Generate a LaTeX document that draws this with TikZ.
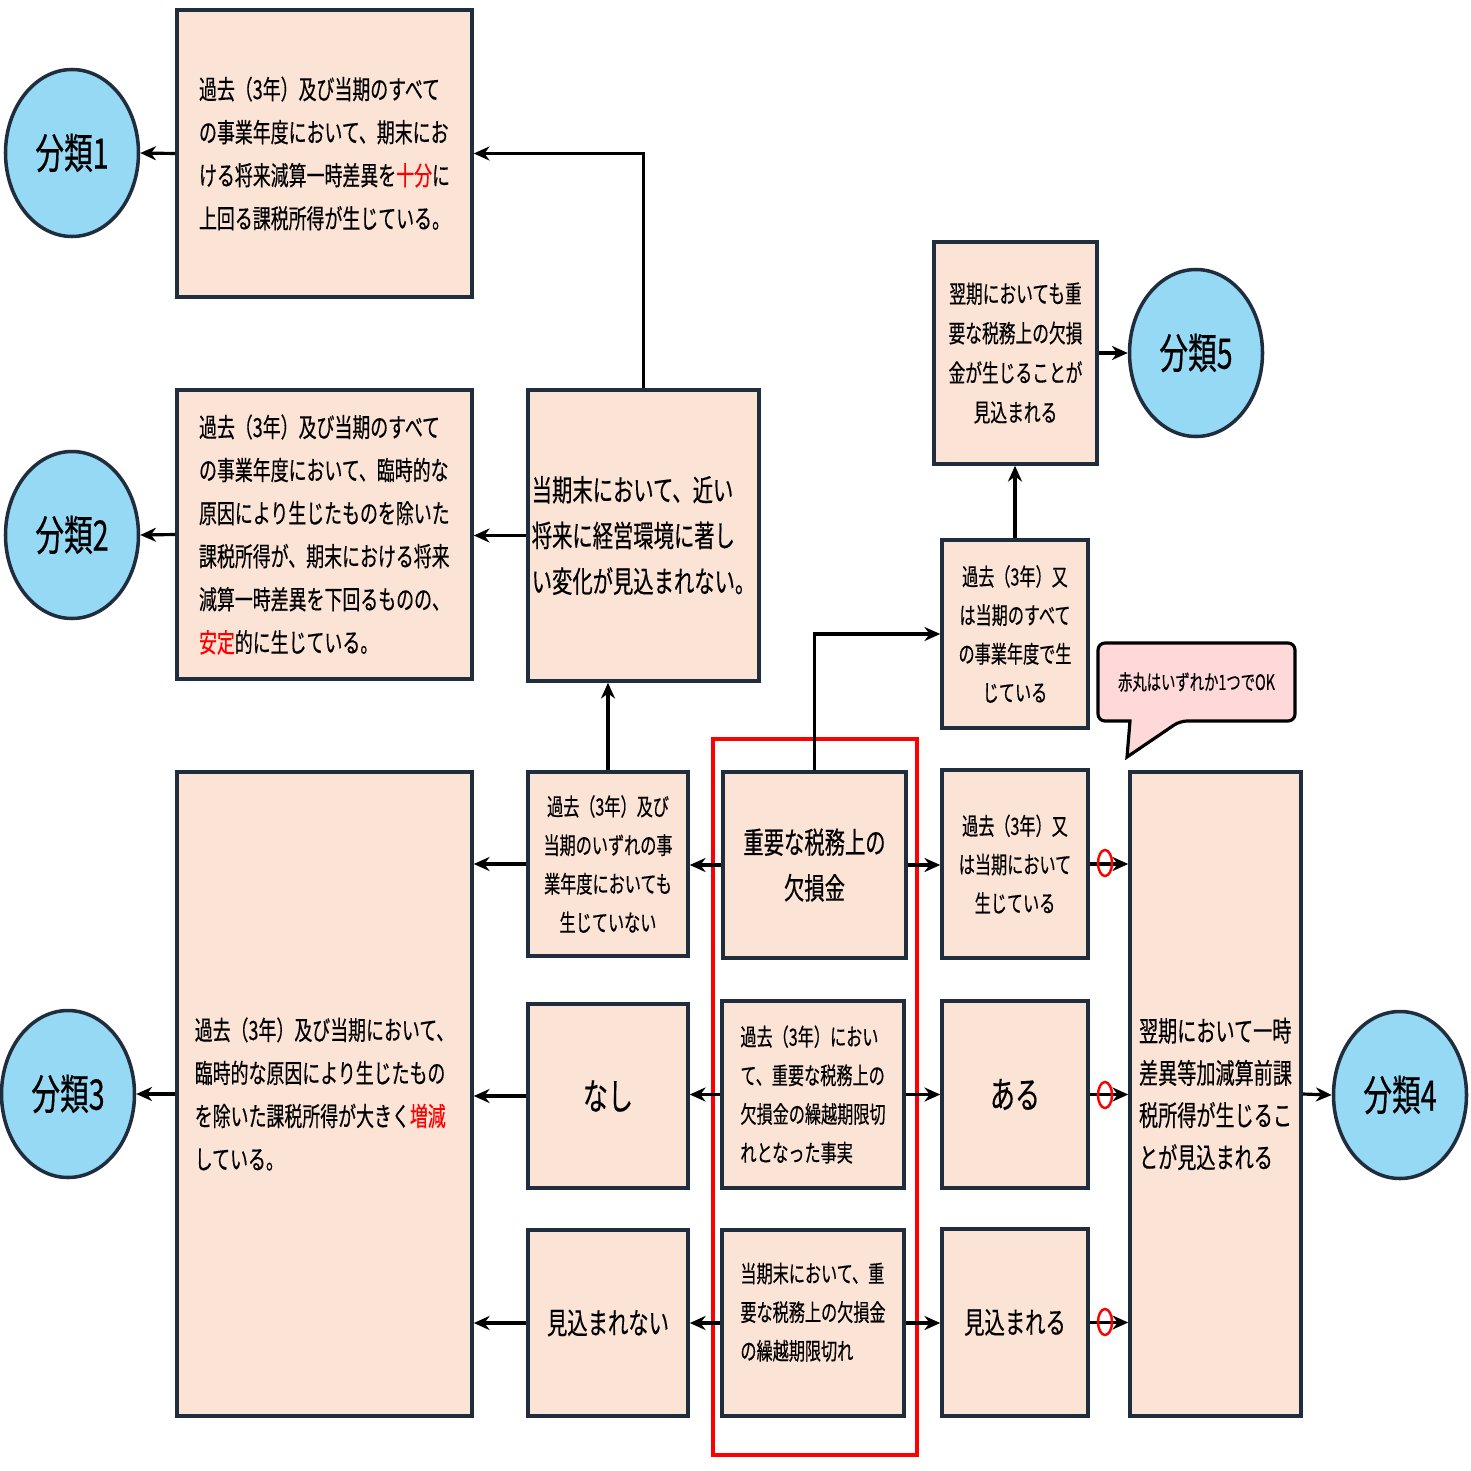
\documentclass[tikz,border=0pt]{standalone}
\usepackage{fontspec}
\setmainfont{Noto Sans CJK JP}[FakeStretch=0.68,FakeBold=0.4]
\usetikzlibrary{arrows.meta,shapes.geometric}
\definecolor{peach}{HTML}{FBE3D6}
\definecolor{navy}{HTML}{1F2D3D}
\definecolor{sky}{HTML}{96D9F5}
\definecolor{pinkc}{HTML}{FFD9D9}
\begin{document}
\begin{tikzpicture}[
 box/.style={draw=navy,line width=2pt,fill=peach,align=left,inner sep=0pt},
 cls/.style={ellipse,draw=navy,line width=2pt,fill=sky,minimum width=2.66cm,minimum height=3.34cm,font=\fontsize{24}{28}\selectfont},
 arr/.style={line width=1.8pt,-{Stealth[length=9pt,width=8pt]}}
]
\useasboundingbox (0,0) rectangle (29.42,-29.42);
\node[box,minimum width=5.9cm,minimum height=5.74cm,font=\fontsize{15}{24.5}\selectfont] (B1) at (6.49,-3.07) {過去（3年）及び当期のすべて\\の事業年度において、期末にお\\ける将来減算一時差異を{\color{red}十分}に\\上回る課税所得が生じている。};
\node[box,minimum width=5.9cm,minimum height=5.78cm,font=\fontsize{15}{24.5}\selectfont] (B2) at (6.49,-10.69) {過去（3年）及び当期のすべて\\の事業年度において、臨時的な\\原因により生じたものを除いた\\課税所得が、期末における将来\\減算一時差異を下回るものの、\\{\color{red}安定}的に生じている。};
\node[box,minimum width=4.62cm,minimum height=5.82cm,font=\fontsize{17}{26}\selectfont] (C) at (12.87,-10.71) {当期末において、近い\\将来に経営環境に著し\\い変化が見込まれない。};
\node[box,minimum width=5.9cm,minimum height=12.88cm,font=\fontsize{15}{24.5}\selectfont] (B3) at (6.49,-21.88) {過去（3年）及び当期において、\\臨時的な原因により生じたもの\\を除いた課税所得が大きく{\color{red}増減}\\している。};
\node[box,minimum width=3.2cm,minimum height=3.68cm,align=center,font=\fontsize{13.5}{22}\selectfont] (N1) at (12.16,-17.28) {過去（3年）及び\\当期のいずれの事\\業年度においても\\生じていない};
\node[box,minimum width=3.2cm,minimum height=3.68cm,align=center,font=\fontsize{21}{24}\selectfont] (N2) at (12.16,-21.92) {なし};
\node[box,minimum width=3.2cm,minimum height=3.72cm,align=center,font=\fontsize{17}{20}\selectfont] (N3) at (12.16,-26.46) {見込まれない};
\node[box,minimum width=3.66cm,minimum height=3.72cm,align=center,font=\fontsize{17}{26}\selectfont] (M1) at (16.29,-17.3) {重要な税務上の\\欠損金};
\node[box,minimum width=3.64cm,minimum height=3.74cm,font=\fontsize{13.5}{22}\selectfont] (M2) at (16.26,-21.89) {過去（3年）におい\\て、重要な税務上の\\欠損金の繰越期限切\\れとなった事実};
\node[box,minimum width=3.64cm,minimum height=3.72cm,font=\fontsize{13.5}{22}\selectfont] (M3) at (16.26,-26.46) {当期末において、重\\要な税務上の欠損金\\の繰越期限切れ\\[-0.3cm]};
\node[box,minimum width=2.92cm,minimum height=3.76cm,align=center,font=\fontsize{13.5}{22}\selectfont] (R1) at (20.3,-17.28) {過去（3年）又\\は当期において\\生じている};
\node[box,minimum width=2.92cm,minimum height=3.74cm,align=center,font=\fontsize{21}{24}\selectfont] (R2) at (20.3,-21.89) {ある};
\node[box,minimum width=2.92cm,minimum height=3.74cm,align=center,font=\fontsize{17}{20}\selectfont] (R3) at (20.3,-26.45) {見込まれる};
\node[box,minimum width=2.92cm,minimum height=3.76cm,align=center,font=\fontsize{13.5}{22}\selectfont] (T) at (20.3,-12.68) {過去（3年）又\\は当期のすべて\\の事業年度で生\\じている};
\node[box,minimum width=3.26cm,minimum height=4.44cm,align=center,font=\fontsize{14}{22.5}\selectfont] (T2) at (20.31,-7.06) {翌期においても重\\要な税務上の欠損\\金が生じることが\\見込まれる};
\node[box,minimum width=3.42cm,minimum height=12.88cm,font=\fontsize{16}{24}\selectfont] (BR) at (24.31,-21.88) {翌期において一時\\差異等加減算前課\\税所得が生じるこ\\とが見込まれる};
\node[cls] (c1) at (1.44,-3.06) {分類1};
\node[cls] (c2) at (1.44,-10.7) {分類2};
\node[cls] (c3) at (1.36,-21.88) {分類3};
\node[cls] (c4) at (28,-21.9) {分類4};
\node[cls] (c5) at (23.92,-7.06) {分類5};
\draw[red,line width=1.8pt] (14.26,-14.78) rectangle (18.34,-29.1);
\draw[line width=1.8pt,fill=pinkc,rounded corners=4pt] (22.6,-14.42) -- (21.96,-14.42) -- (21.96,-12.86) -- (25.9,-12.86) -- (25.9,-14.42) -- (23.6,-14.42) [sharp corners]-- (22.54,-15.14) -- (22.6,-14.42) -- cycle;
\node[font=\fontsize{12}{14}\selectfont] (cl) at (23.93,-13.64) {赤丸はいずれか1つでOK};
\draw[arr] (C.north) |- (B1.east);
\draw[arr] (C.west) -- (C.west -| B2.east);
\draw[arr] (B1.west) -- (c1.east);
\draw[arr] (B2.west) -- (c2.east);
\draw[arr] (B3.west) -- (c3.east);
\draw[arr] (N1.north) -- (N1.north |- C.south);
\draw[arr] (N1.west) -- (N1.west -| B3.east);
\draw[arr] (N2.west) -- (N2.west -| B3.east);
\draw[arr] (N3.west) -- (N3.west -| B3.east);
\draw[arr] (M1.west) -- (M1.west -| N1.east);
\draw[arr] (M2.west) -- (M2.west -| N2.east);
\draw[arr] (M3.west) -- (M3.west -| N3.east);
\draw[arr] (M1.east) -- (M1.east -| R1.west);
\draw[arr] (M2.east) -- (M2.east -| R2.west);
\draw[arr] (M3.east) -- (M3.east -| R3.west);
\draw[arr] (R1.east) -- (R1.east -| BR.west);
\draw[arr] (R2.east) -- (R2.east -| BR.west);
\draw[arr] (R3.east) -- (R3.east -| BR.west);
\draw[arr] (M1.north) |- (T.west);
\draw[arr] (T.north) -- (T.north |- T2.south);
\draw[arr] (T2.east) -- (c5.west);
\draw[arr] (BR.east) -- (c4.west);
\foreach \n/\y in {o1/-17.26,o2/-21.9,o3/-26.44}
  \draw[red,line width=1.4pt] (22.1,\y) ellipse (0.14 and 0.26);
\end{tikzpicture}
\end{document}
